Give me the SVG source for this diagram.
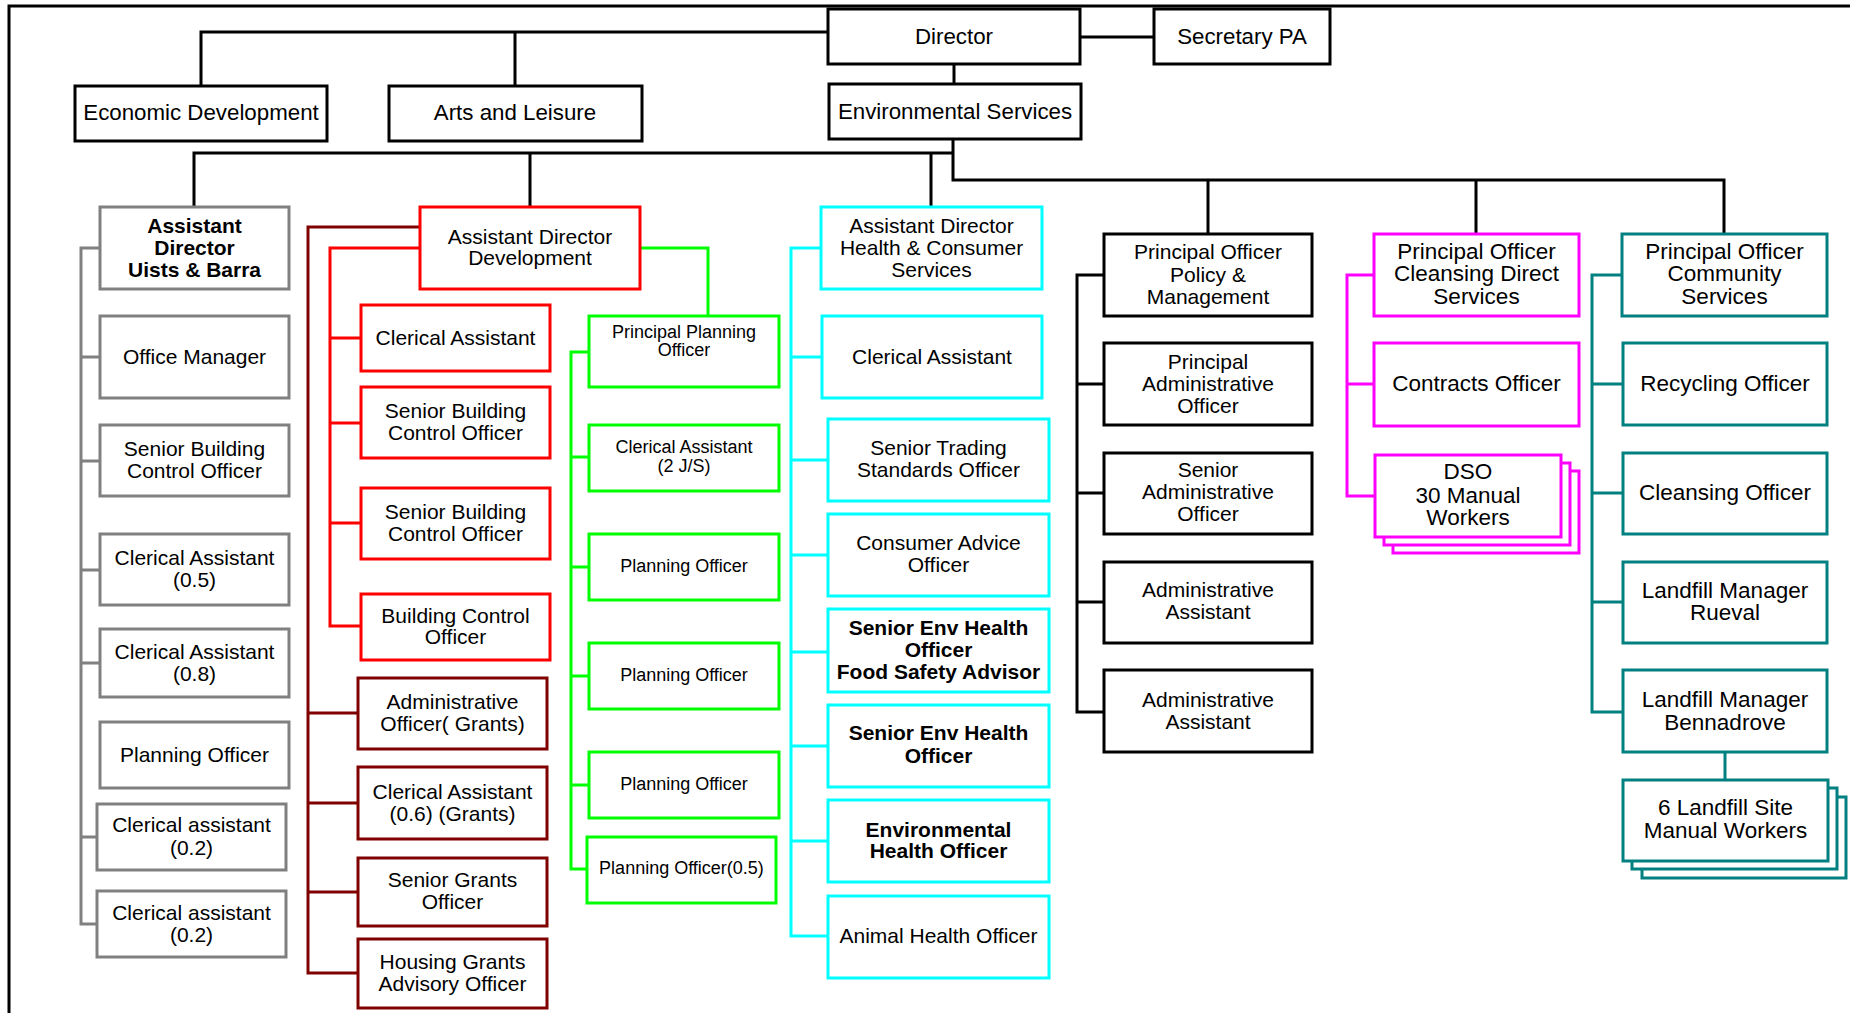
<svg xmlns="http://www.w3.org/2000/svg" width="1850" height="1013" viewBox="0 0 1850 1013">
<style>
rect{fill:#fff;stroke-width:3}
.k{stroke:#000}.g{stroke:#808080}.r{stroke:#ff0000}.m{stroke:#800000}.gr{stroke:#00ff00}.c{stroke:#00ffff}.mg{stroke:#ff00ff}.tl{stroke:#008080}
path{fill:none;stroke-width:3}
text{font-family:"Liberation Sans",Arial,sans-serif;font-size:21px;fill:#000;text-anchor:middle;transform:translateY(-1px)}
.f22{font-size:22.3px}.f18{font-size:18px}.bd{font-weight:bold}.f225{font-size:22.5px}
</style>
<rect width="1850" height="1013" style="fill:#fff;stroke:none"/>
<path d="M9,1013 V6 H1850" stroke="#000"/>
<g id="connectors">
<path d="M828,32 H201 V86 M515,32 V86" stroke="#000"/>
<path d="M1080,37 H1154" stroke="#000"/>
<path d="M954,64 V84" stroke="#000"/>
<path d="M953,139 V180 H1724 V234 M1208,180 V234 M1476,180 V234" stroke="#000"/>
<path d="M953,153 H194 V207 M530,153 V207 M931,153 V207" stroke="#000"/>
<path d="M100,248 H81 V924 H97 M81,357 H100 M81,461 H100 M81,570 H100 M81,663 H100 M81,837 H97" stroke="#808080"/>
<path d="M420,248 H330 V626 H361 M330,338 H361 M330,423 H361 M330,523 H361" stroke="#ff0000"/>
<path d="M420,227 H308 V973 H358 M308,713 H358 M308,803 H358 M308,892 H358" stroke="#800000"/>
<path d="M640,248 H708 V316 M589,352 H571 V869 H587 M571,457 H589 M571,567 H589 M571,676 H589 M571,785 H589" stroke="#00ff00"/>
<path d="M821,248 H791 V936 H828 M791,357 H822 M791,460 H828 M791,555 H828 M791,652 H828 M791,746 H828 M791,841 H828" stroke="#00ffff"/>
<path d="M1104,275 H1077 V712 H1104 M1077,384 H1104 M1077,493 H1104 M1077,602 H1104" stroke="#000"/>
<path d="M1374,275 H1347 V496 H1375 M1347,384 H1374" stroke="#ff00ff"/>
<path d="M1622,275 H1592 V712 H1623 M1592,384 H1623 M1592,493 H1623 M1592,602 H1623 M1725,752 V780" stroke="#008080"/>
</g>
<g id="director"><rect class="k" x="828" y="9" width="252" height="55"/><text class="f22" x="954" y="45">Director</text></g>
<g id="secretary"><rect class="k" x="1154" y="9" width="176" height="55"/><text class="f22" x="1242" y="45">Secretary PA</text></g>
<g id="econ"><rect class="k" x="75" y="86" width="252" height="55"/><text class="f22" x="201" y="121">Economic Development</text></g>
<g id="arts"><rect class="k" x="389" y="86" width="253" height="55"/><text class="f22" x="515" y="121">Arts and Leisure</text></g>
<g id="env"><rect class="k" x="829" y="84" width="252" height="55"/><text class="f22" x="955" y="120">Environmental Services</text></g>

<g id="ad-uists"><rect class="g" x="100" y="207" width="189" height="82"/><text class="bd"><tspan x="194.5" y="233.5">Assistant</tspan><tspan x="194.5" y="255.5">Director</tspan><tspan x="194.5" y="277.5">Uists &amp; Barra</tspan></text></g>
<g id="office-manager"><rect class="g" x="100" y="316" width="189" height="82"/><text x="194.5" y="364.5">Office Manager</text></g>
<g id="g-sbco"><rect class="g" x="100" y="425" width="189" height="71"/><text><tspan x="194.5" y="456.5">Senior Building</tspan><tspan x="194.5" y="478.5">Control Officer</tspan></text></g>
<g id="g-ca05"><rect class="g" x="100" y="534" width="189" height="71"/><text><tspan x="194.5" y="565.5">Clerical Assistant</tspan><tspan x="194.5" y="587.5">(0.5)</tspan></text></g>
<g id="g-ca08"><rect class="g" x="100" y="629" width="189" height="68"/><text><tspan x="194.5" y="659.5">Clerical Assistant</tspan><tspan x="194.5" y="681.5">(0.8)</tspan></text></g>
<g id="g-po"><rect class="g" x="100" y="722" width="189" height="66"/><text x="194.5" y="762.5">Planning Officer</text></g>
<g id="g-ca02a"><rect class="g" x="97" y="804" width="189" height="66"/><text><tspan x="191.5" y="832.5">Clerical assistant</tspan><tspan x="191.5" y="855.5">(0.2)</tspan></text></g>
<g id="g-ca02b"><rect class="g" x="97" y="891" width="189" height="66"/><text><tspan x="191.5" y="920.5">Clerical assistant</tspan><tspan x="191.5" y="942.5">(0.2)</tspan></text></g>

<g id="ad-dev"><rect class="r" x="420" y="207" width="220" height="82"/><text><tspan x="530" y="244.5">Assistant Director</tspan><tspan x="530" y="265.5">Development</tspan></text></g>
<g id="r-ca"><rect class="r" x="361" y="305" width="189" height="66"/><text x="455.5" y="345.5">Clerical Assistant</text></g>
<g id="r-sbco1"><rect class="r" x="361" y="387" width="189" height="71"/><text><tspan x="455.5" y="418.5">Senior Building</tspan><tspan x="455.5" y="440.5">Control Officer</tspan></text></g>
<g id="r-sbco2"><rect class="r" x="361" y="488" width="189" height="71"/><text><tspan x="455.5" y="519.5">Senior Building</tspan><tspan x="455.5" y="541.5">Control Officer</tspan></text></g>
<g id="r-bco"><rect class="r" x="361" y="594" width="189" height="66"/><text><tspan x="455.5" y="623.5">Building Control</tspan><tspan x="455.5" y="644.5">Officer</tspan></text></g>

<g id="m-aog"><rect class="m" x="358" y="678" width="189" height="71"/><text><tspan x="452.5" y="709.5">Administrative</tspan><tspan x="452.5" y="731.5">Officer( Grants)</tspan></text></g>
<g id="m-ca06"><rect class="m" x="358" y="767" width="189" height="72"/><text><tspan x="452.5" y="799.5">Clerical Assistant</tspan><tspan x="452.5" y="821.5">(0.6) (Grants)</tspan></text></g>
<g id="m-sgo"><rect class="m" x="358" y="858" width="189" height="68"/><text><tspan x="452.5" y="887.5">Senior Grants</tspan><tspan x="452.5" y="909.5">Officer</tspan></text></g>
<g id="m-hgao"><rect class="m" x="358" y="939" width="189" height="69"/><text><tspan x="452.5" y="969.5">Housing Grants</tspan><tspan x="452.5" y="991.5">Advisory Officer</tspan></text></g>

<g id="gr-ppo"><rect class="gr" x="589" y="316" width="190" height="71"/><text class="f18"><tspan x="684" y="339">Principal Planning</tspan><tspan x="684" y="357">Officer</tspan></text></g>
<g id="gr-ca"><rect class="gr" x="589" y="425" width="190" height="66"/><text class="f18"><tspan x="684" y="454">Clerical Assistant</tspan><tspan x="684" y="473">(2 J/S)</tspan></text></g>
<g id="gr-po1"><rect class="gr" x="589" y="534" width="190" height="66"/><text class="f18" x="684" y="573">Planning Officer</text></g>
<g id="gr-po2"><rect class="gr" x="589" y="643" width="190" height="66"/><text class="f18" x="684" y="682">Planning Officer</text></g>
<g id="gr-po3"><rect class="gr" x="589" y="752" width="190" height="66"/><text class="f18" x="684" y="791">Planning Officer</text></g>
<g id="gr-po05"><rect class="gr" x="587" y="837" width="189" height="66"/><text class="f18" x="681.5" y="875">Planning Officer(0.5)</text></g>

<g id="ad-health"><rect class="c" x="821" y="207" width="221" height="82"/><text><tspan x="931.5" y="233.5">Assistant Director</tspan><tspan x="931.5" y="255.5">Health &amp; Consumer</tspan><tspan x="931.5" y="277.5">Services</tspan></text></g>
<g id="c-ca"><rect class="c" x="822" y="316" width="220" height="82"/><text x="932" y="364.5">Clerical Assistant</text></g>
<g id="c-stso"><rect class="c" x="828" y="419" width="221" height="82"/><text><tspan x="938.5" y="455.5">Senior Trading</tspan><tspan x="938.5" y="477.5">Standards Officer</tspan></text></g>
<g id="c-cao"><rect class="c" x="828" y="514" width="221" height="82"/><text><tspan x="938.5" y="550.5">Consumer Advice</tspan><tspan x="938.5" y="572.5">Officer</tspan></text></g>
<g id="c-seho-fsa"><rect class="c" x="828" y="609" width="221" height="83"/><text class="bd"><tspan x="938.5" y="635.5">Senior Env Health</tspan><tspan x="938.5" y="657.5">Officer</tspan><tspan x="938.5" y="679.5">Food Safety Advisor</tspan></text></g>
<g id="c-seho"><rect class="c" x="828" y="705" width="221" height="82"/><text class="bd"><tspan x="938.5" y="740.5">Senior Env Health</tspan><tspan x="938.5" y="763.5">Officer</tspan></text></g>
<g id="c-eho"><rect class="c" x="828" y="800" width="221" height="82"/><text class="bd"><tspan x="938.5" y="837.5">Environmental</tspan><tspan x="938.5" y="858.5">Health Officer</tspan></text></g>
<g id="c-aho"><rect class="c" x="828" y="896" width="221" height="82"/><text x="938.5" y="943.5">Animal Health Officer</text></g>

<g id="po-policy"><rect class="k" x="1104" y="234" width="208" height="82"/><text><tspan x="1208" y="260">Principal Officer</tspan><tspan x="1208" y="282.5">Policy &amp;</tspan><tspan x="1208" y="305">Management</tspan></text></g>
<g id="k-pao"><rect class="k" x="1104" y="343" width="208" height="82"/><text><tspan x="1208" y="369.5">Principal</tspan><tspan x="1208" y="391.5">Administrative</tspan><tspan x="1208" y="413.5">Officer</tspan></text></g>
<g id="k-sao"><rect class="k" x="1104" y="453" width="208" height="81"/><text><tspan x="1208" y="478">Senior</tspan><tspan x="1208" y="500">Administrative</tspan><tspan x="1208" y="522">Officer</tspan></text></g>
<g id="k-aa1"><rect class="k" x="1104" y="562" width="208" height="81"/><text><tspan x="1208" y="598">Administrative</tspan><tspan x="1208" y="620">Assistant</tspan></text></g>
<g id="k-aa2"><rect class="k" x="1104" y="670" width="208" height="82"/><text><tspan x="1208" y="707.5">Administrative</tspan><tspan x="1208" y="729.5">Assistant</tspan></text></g>

<g id="po-cleansing"><rect class="mg" x="1374" y="234" width="205" height="82"/><text class="f225"><tspan x="1476.5" y="259.5">Principal Officer</tspan><tspan x="1476.5" y="282">Cleansing Direct</tspan><tspan x="1476.5" y="304.5">Services</tspan></text></g>
<g id="mg-co"><rect class="mg" x="1374" y="343" width="205" height="83"/><text class="f225" x="1476.5" y="392">Contracts Officer</text></g>
<g id="mg-dso"><rect class="mg" x="1393" y="471" width="186" height="82"/><rect class="mg" x="1384" y="463" width="186" height="82"/><rect class="mg" x="1375" y="455" width="186" height="82"/><text class="f225"><tspan x="1468" y="480">DSO</tspan><tspan x="1468" y="503.5">30 Manual</tspan><tspan x="1468" y="526">Workers</tspan></text></g>

<g id="po-community"><rect class="tl" x="1622" y="234" width="205" height="82"/><text class="f225"><tspan x="1724.5" y="260">Principal Officer</tspan><tspan x="1724.5" y="282">Community</tspan><tspan x="1724.5" y="304.5">Services</tspan></text></g>
<g id="t-ro"><rect class="tl" x="1623" y="343" width="204" height="82"/><text class="f225" x="1725" y="392">Recycling Officer</text></g>
<g id="t-co"><rect class="tl" x="1623" y="453" width="204" height="81"/><text class="f225" x="1725" y="501">Cleansing Officer</text></g>
<g id="t-lmr"><rect class="tl" x="1623" y="562" width="204" height="81"/><text class="f225"><tspan x="1725" y="599">Landfill Manager</tspan><tspan x="1725" y="621">Rueval</tspan></text></g>
<g id="t-lmb"><rect class="tl" x="1623" y="670" width="204" height="82"/><text class="f225"><tspan x="1725" y="708">Landfill Manager</tspan><tspan x="1725" y="730.5">Bennadrove</tspan></text></g>
<g id="t-workers"><rect class="tl" x="1642" y="797" width="204" height="81"/><rect class="tl" x="1632" y="788" width="205" height="81"/><rect class="tl" x="1623" y="780" width="205" height="81"/><text class="f225"><tspan x="1725.5" y="816">6 Landfill Site</tspan><tspan x="1725.5" y="839">Manual Workers</tspan></text></g>
</svg>
